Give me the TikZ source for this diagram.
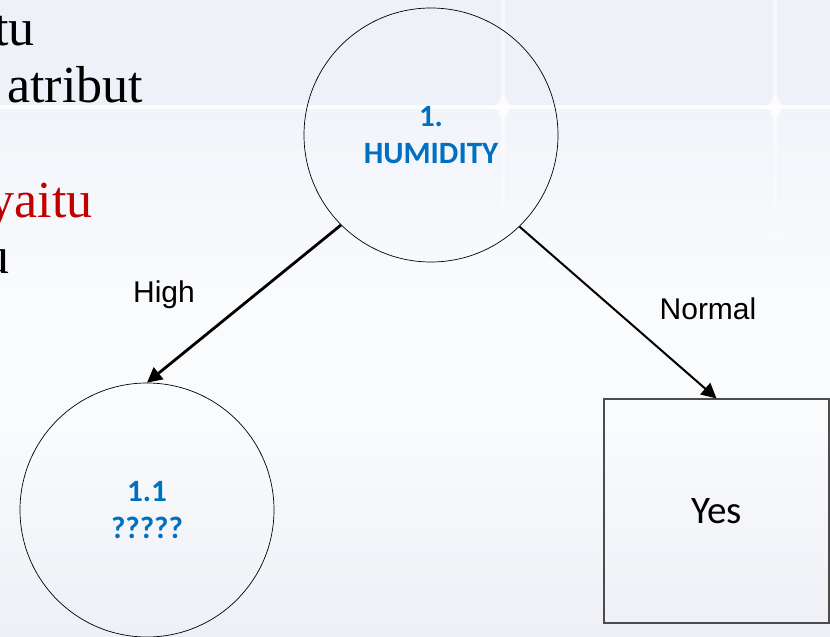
\documentclass[tikz,border=0pt]{standalone}
\usepackage{fontspec}
\setmainfont{Liberation Serif}
\newfontfamily\calibrifont{Carlito}
\newfontfamily\arialfont{Liberation Sans}
\usetikzlibrary{arrows.meta}
\definecolor{nodeblue}{HTML}{0070C0}
\definecolor{slidered}{HTML}{C00000}
\definecolor{bgtop}{HTML}{EEF1F8}
\definecolor{bgmid}{HTML}{FAFBFD}
\definecolor{bgbot}{HTML}{EEF0F6}
\tikzset{
  decision/.style={circle, draw=black, line width=0.7pt, minimum size=254pt, inner sep=0pt,
    font=\calibrifont\bfseries\fontsize{31}{37}\selectfont, text=nodeblue, align=center},
  leafbox/.style={rectangle, draw=black!70, line width=1.1pt, minimum width=225pt, minimum height=224pt,
    inner sep=0pt, font=\calibrifont\fontsize{39}{44}\selectfont},
  branch/.style={draw=black, -{Triangle[length=15pt,width=15pt]}},
  branchlabel/.style={font=\arialfont\fontsize{30}{36}\selectfont, inner sep=0pt},
  slidetext/.style={font=\fontsize{52}{60}\selectfont, inner sep=0pt},
  glassline/.style={draw=white, line width=4pt},
}
\begin{document}
\begin{tikzpicture}[x=1pt, y=-1pt]
  \useasboundingbox (0,0) rectangle (830,637);
  \clip (0,0) rectangle (830,637);
  % slide background with faint glass tiles
  \fill[bgmid] (0,0) rectangle (830,637);
  \fill[bgtop] (0,0) rectangle (830,105);
  \shade[top color=bgtop!70!bgmid, bottom color=bgmid] (0,105) rectangle (830,300);
  \shade[top color=bgmid, bottom color=bgbot] (0,420) rectangle (830,637);
  \draw[glassline, opacity=0.85] (0,107) -- (830,107);
  \shade[top color=white, bottom color=bgmid, opacity=0.6] (501,0) rectangle (505,240);
  \shade[top color=white, bottom color=bgmid, opacity=0.6] (773,0) rectangle (777,240);
  \fill[white, opacity=0.7] (503,94) -- (511,107) -- (503,120) -- (495,107) -- cycle;
  \fill[white, opacity=0.7] (775,94) -- (783,107) -- (775,120) -- (767,107) -- cycle;

  % slide body text, cut off at the left edge
  \node[slidetext, anchor=base east] (t1) at (35,45) {tu};
  \node[slidetext, anchor=base west] (t2) at (7,102) {atribut};
  \node[slidetext, anchor=base east, text=slidered] (t3) at (93,217) {yaitu};
  \node[slidetext, anchor=base east] (t4) at (10,273) {u};

  % decision tree
  \node[decision] (root) at (431,135) {1.\\HUMIDITY};
  \node[decision] (sub) at (147,510) {1.1\\?????};
  \node[leafbox] (yes) at (716.5,511) {Yes};

  \draw[branch, line width=2.8pt] (root.225.6) -- (sub.north);
  \draw[branch, line width=2pt] (root.314.7) -- (yes.north);

  \node[branchlabel] (lhigh) at (164,295) {High};
  \node[branchlabel] (lnormal) at (708,309) {Normal};
\end{tikzpicture}
\end{document}
